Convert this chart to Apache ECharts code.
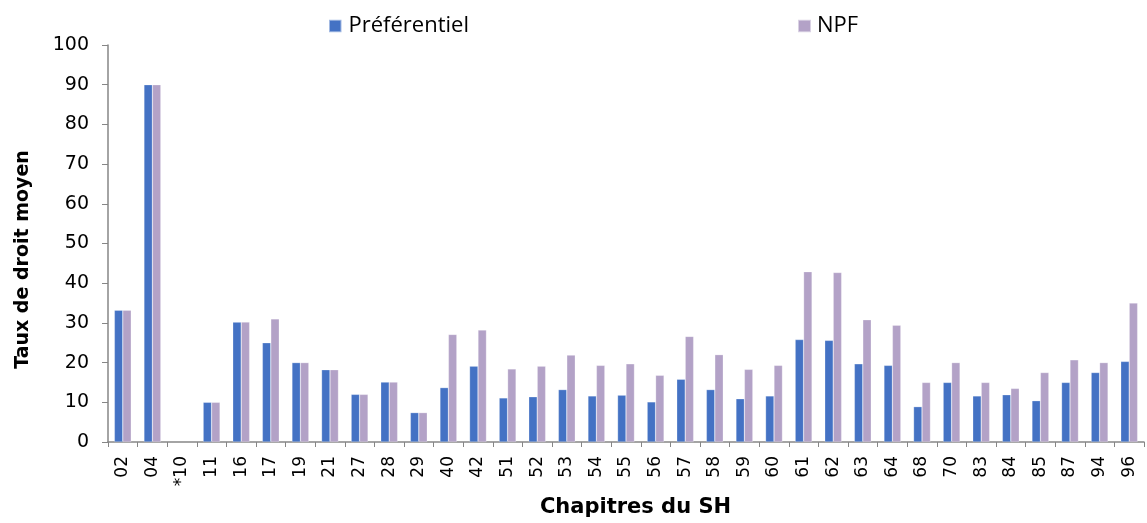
<!DOCTYPE html>
<html>
<head>
<meta charset="utf-8">
<script src="https://cdn.jsdelivr.net/npm/echarts@6/dist/echarts.min.js"></script>
<style>html,body{margin:0;padding:0;background:#fff}#c{width:1147px;height:523px}</style>
</head>
<body>
<div id="c"></div>
<script>
const categories = ['02','04','*10','11','16','17','19','21','27','28','29','40','42','51','52','53','54','55','56','57','58','59','60','61','62','63','64','68','70','83','84','85','87','94','96'];
const preferentiel = [33.2,90,null,10,30.2,25,20,18.2,12,15.1,7.4,13.7,19.1,11.1,11.4,13.2,11.6,11.8,10.1,15.8,13.2,10.9,11.6,25.8,25.6,19.7,19.3,8.9,15,11.6,11.9,10.4,15,17.5,20.3];
const npf = [33.2,90,null,10,30.2,31,20,18.2,12,15.1,7.4,27.1,28.2,18.4,19.1,21.9,19.3,19.7,16.8,26.6,22,18.3,19.3,42.9,42.7,30.8,29.4,15,20,15,13.5,17.5,20.7,20,35];
const seriesNames = ['Préférentiel','NPF'];

const font = 'DejaVu Sans, Verdana, sans-serif';
const legendFont = 'Open Sans, Noto Sans, sans-serif';
const chart = echarts.init(document.getElementById('c'), null, {renderer:'canvas'});
chart.setOption({
  animation:false,
  color:['#4472C4','#B3A2C7'],
  legend:[
    {data:[seriesNames[0]], left:328, top:15, padding:0, itemWidth:12.5, itemHeight:12.5, icon:'rect',
     textStyle:{fontFamily:legendFont, fontSize:22, color:'#000', padding:[0,0,0,2]}},
    {data:[seriesNames[1]], left:797, top:15, padding:0, itemWidth:13, itemHeight:12.5, icon:'rect',
     textStyle:{fontFamily:legendFont, fontSize:22, color:'#000', padding:[0,0,0,1]}}
  ],
  grid:{left:108, right:3, top:45, bottom:81, containLabel:false},
  xAxis:{
    type:'category', data:categories,
    axisLine:{lineStyle:{color:'#868686', width:1.5}},
    axisTick:{show:true, length:5, lineStyle:{color:'#868686'}},
    axisLabel:{rotate:90, fontFamily:font, fontSize:17, color:'#000', margin:14, interval:0},
    name:'Chapitres du SH', nameLocation:'middle', nameGap:55,
    nameTextStyle:{fontFamily:font, fontSize:21, fontWeight:'bold', color:'#000', padding:[0,0,0,19]}
  },
  yAxis:{
    type:'value', min:0, max:100, interval:10,
    axisLine:{show:true, lineStyle:{color:'#868686', width:1.5}},
    axisTick:{show:true, length:6, lineStyle:{color:'#868686'}},
    splitLine:{show:false},
    axisLabel:{fontFamily:font, fontSize:19, color:'#000', margin:19},
    name:'Taux de droit moyen', nameLocation:'middle', nameGap:75, nameRotate:90,
    nameTextStyle:{fontFamily:font, fontSize:19, fontWeight:'bold', color:'#000', padding:[0,32,0,0]}
  },
  series:[
    {name:seriesNames[0], type:'bar', data:preferentiel, barGap:'0%', barCategoryGap:'43%',
     itemStyle:{borderColor:'rgba(255,255,255,0.5)', borderWidth:0.5}},
    {name:seriesNames[1], type:'bar', data:npf, barGap:'0%', barCategoryGap:'43%',
     itemStyle:{borderColor:'rgba(255,255,255,0.5)', borderWidth:0.5}}
  ]
});
</script>
</body>
</html>
